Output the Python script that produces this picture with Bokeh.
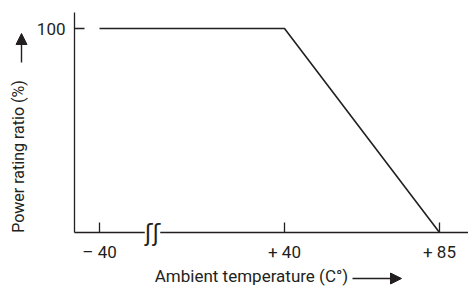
import math
from bokeh.plotting import figure
from bokeh.models import Range1d, FixedTicker, Label, Arrow, NormalHead, LinearAxis
from bokeh.embed import file_html
from bokeh.resources import INLINE

# ---- data ----
temps = [-40, 40, 85]          # ambient temperature (°C)
ratio = [100, 100, 0]          # power rating ratio (%)
x_ticks = [-40, 40, 85]
x_tick_labels = ["– 40", "+ 40", "+ 85"]
y_ticks = [100]
y_tick_labels = ["100"]

BREAK_GAP = 26.3  # axis units hidden by the axis break between -40 and +40


def disp(t):
    return t + BREAK_GAP if t < 0 else t


INK = "#231f20"
FONT = "Roboto"
W, H = 468, 287


# helpers converting reference-pixel placement into data units
def dx(px):
    return 40 + (px - 284) / (155 / 45)


def dy(py):
    return (232 - py) / 2.04


xs = [disp(t) for t in temps]

p = figure(width=W, height=H, output_backend="svg", toolbar_location=None,
           x_range=Range1d(dx(0), dx(W)), y_range=Range1d(dy(H), dy(0)),
           x_axis_location=None, y_axis_location=None,
           min_border=0)
p.outline_line_color = None
p.grid.visible = False
p.background_fill_color = "white"
p.border_fill_color = "white"

p.line(xs, ratio, line_color=INK, line_width=1.6)

# axes, fixed at the chart's origin
xt = [disp(t) for t in x_ticks]
xaxis = LinearAxis(fixed_location=0, bounds=(dx(74), dx(W)),
                   ticker=FixedTicker(ticks=xt),
                   major_label_overrides={v: s for v, s in zip(xt, x_tick_labels)})
yaxis = LinearAxis(fixed_location=dx(74), bounds=(0, dy(12)),
                   ticker=FixedTicker(ticks=y_ticks),
                   major_label_overrides={v: s for v, s in zip(y_ticks, y_tick_labels)})
for ax in (xaxis, yaxis):
    ax.axis_line_color = INK
    ax.axis_line_width = 1.3
    ax.major_tick_line_color = INK
    ax.major_tick_line_width = 1.3
    ax.major_tick_in = 10
    ax.major_tick_out = 0
    ax.minor_tick_line_color = None
    ax.major_label_text_font = FONT
    ax.major_label_text_font_size = "17px"
    ax.major_label_text_color = INK
    ax.major_label_standoff = 9
p.add_layout(xaxis, "below")
p.add_layout(yaxis, "left")

# axis break mark
p.add_layout(Label(x=dx(152), y=0, text="ʃʃ", text_font="DejaVu Sans",
                   text_font_size="23px", text_color=INK,
                   text_align="center", text_baseline="middle",
                   background_fill_color="white"))

# axis titles
p.add_layout(Label(x=dx(251), y=dy(275), text="Ambient temperature (C°)",
                   text_font=FONT, text_font_size="17px", text_color=INK,
                   text_align="center", text_baseline="middle"))
p.add_layout(Label(x=dx(18), y=dy(156), text="Power rating ratio (%)",
                   angle=math.pi / 2, text_font=FONT, text_font_size="16px",
                   text_color=INK, text_align="center", text_baseline="middle"))

p.add_layout(Arrow(x_start=dx(352), y_start=dy(278), x_end=dx(401), y_end=dy(278),
                   line_color=INK, line_width=1.4,
                   end=NormalHead(size=11, fill_color=INK, line_color=INK)))
p.add_layout(Arrow(x_start=dx(21), y_start=dy(62), x_end=dx(21), y_end=dy(33),
                   line_color=INK, line_width=1.4,
                   end=NormalHead(size=11, fill_color=INK, line_color=INK)))

open("out.html", "w").write(file_html(p, INLINE))
